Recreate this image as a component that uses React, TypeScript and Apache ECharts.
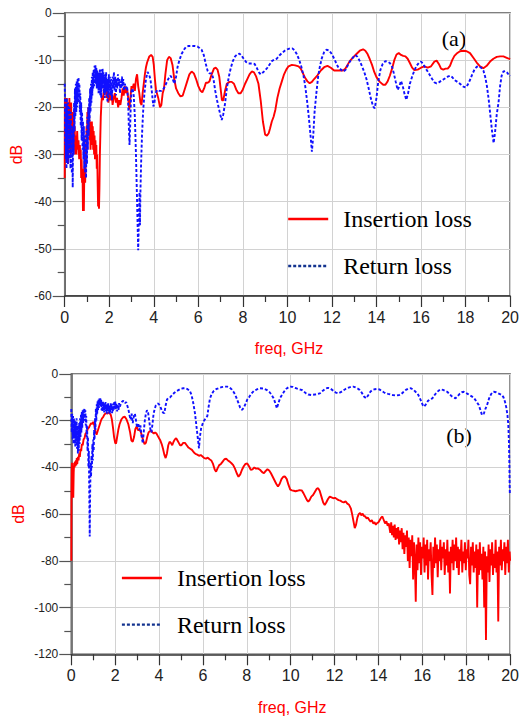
import React, { useEffect, useRef } from 'react';
import * as echarts from 'echarts';

// ---------- (a) data: [freq GHz, dB] ----------
const insertionA: [number, number][] = [
  [0,-35],[0.01,-18],[0.03,-30],[0.05,-19],[0.07,-31],[0.09,-18],[0.11,-28],[0.13,-20],[0.15,-32],[0.17,-19],
  [0.19,-29],[0.21,-18],[0.23,-27],[0.25,-20],[0.27,-30],[0.29,-19],[0.31,-26],[0.33,-22],[0.35,-29],[0.37,-21],
  [0.39,-25],[0.41,-23],[0.43,-29],[0.45,-24],[0.47,-30],[0.5,-26],[0.53,-30],[0.56,-25],[0.59,-29],[0.62,-27],
  [0.65,-31],[0.68,-28],[0.7,-31],[0.72,-29],[0.74,-35],[0.76,-31],[0.78,-36],[0.8,-33],[0.82,-42],[0.84,-38],
  [0.86,-42],[0.88,-34],[0.9,-30],[0.92,-36],[0.94,-28],[0.96,-31],[0.98,-24],[1.0,-27],[1.02,-21],[1.04,-26],
  [1.06,-20],[1.08,-25],[1.1,-22],[1.12,-27],[1.14,-23],[1.16,-29],[1.18,-24],[1.2,-28],[1.22,-23],[1.24,-27],
  [1.26,-24],[1.28,-29],[1.3,-25],[1.32,-30],[1.34,-26],[1.36,-31],[1.38,-27],[1.4,-30],[1.42,-28],[1.44,-33],
  [1.46,-30],[1.48,-36],[1.5,-41],[1.52,-36],[1.54,-41.5],[1.56,-37],[1.58,-30],[1.6,-26],[1.62,-22],[1.65,-19],
  [1.68,-17.5],[1.72,-18.5],[1.76,-16],[1.8,-17],[1.84,-15.5],[1.88,-18],[1.92,-16.5],[1.96,-19],[2.0,-17],[2.05,-18.5],
  [2.1,-16.5],[2.15,-19.5],[2.2,-18],[2.25,-17],[2.3,-19],[2.35,-18],[2.4,-20],[2.45,-18.5],[2.5,-19.5],[2.55,-18],
  [2.6,-16],[2.65,-17.5],[2.7,-15.5],[2.75,-17],[2.8,-16],[2.85,-18],[2.9,-20.5],[2.95,-18],[3.0,-15.5],[3.05,-16],
  [3.1,-15],[3.15,-16.5],[3.2,-14],[3.25,-13],[3.3,-15.5],[3.35,-17],[3.4,-19],[3.45,-19.5],[3.5,-17],[3.55,-15],
  [3.6,-13],[3.65,-11.5],[3.7,-10.5],[3.8,-9.2],[3.88,-8.9],[3.95,-9.3],[4.0,-11],[4.05,-14],[4.1,-16.3],[4.2,-18],
  [4.28,-20],[4.34,-19.5],[4.4,-17],[4.46,-16],[4.52,-13],[4.6,-10],[4.68,-9.3],[4.76,-9.6],[4.84,-11],[4.92,-14],
  [5.0,-16],[5.1,-17],[5.2,-17.7],[5.3,-17.5],[5.4,-16],[5.5,-14.5],[5.6,-13],[5.7,-12.4],[5.8,-12.8],[5.9,-14],
  [6.0,-15.5],[6.1,-16.5],[6.18,-16.8],[6.26,-16],[6.34,-14.8],[6.42,-14.8],[6.5,-14.5],[6.6,-13],[6.7,-11.8],[6.78,-11.6],
  [6.86,-12],[6.94,-13.5],[7.0,-16],[7.06,-18.5],[7.12,-18.5],[7.2,-16.5],[7.28,-15],[7.4,-14.6],[7.5,-14.6],[7.6,-15],
  [7.7,-16.2],[7.8,-17],[7.9,-17],[8.0,-16.2],[8.1,-15],[8.2,-14],[8.3,-13],[8.4,-12.4],[8.5,-12.6],[8.6,-13.5],
  [8.7,-15],[8.8,-18.5],[8.9,-23],[9.0,-25.8],[9.08,-26],[9.16,-25.5],[9.22,-24.5],[9.3,-23],[9.38,-22],[9.46,-20.5],
  [9.55,-18],[9.65,-16],[9.75,-14.5],[9.85,-13],[9.95,-12],[10.05,-11.3],[10.2,-11],[10.35,-11.1],[10.5,-11.3],[10.6,-11.8],
  [10.7,-12.8],[10.8,-13.8],[10.9,-14.5],[11.0,-14.9],[11.1,-14.6],[11.2,-14],[11.35,-13.2],[11.5,-12.2],[11.65,-11.5],[11.8,-11.2],
  [11.95,-11.6],[12.1,-12.2],[12.3,-12.2],[12.5,-12.2],[12.6,-11.8],[12.7,-11],[12.8,-10.2],[12.95,-9.4],[13.1,-8.7],[13.25,-8],
  [13.4,-7.7],[13.5,-8],[13.6,-8.7],[13.7,-9.8],[13.8,-11],[13.9,-12.5],[14.0,-13.6],[14.15,-14.6],[14.3,-15.2],[14.4,-15.2],
  [14.5,-14.5],[14.6,-13.3],[14.7,-11.8],[14.8,-10],[14.9,-8.8],[15.0,-8.5],[15.1,-8.9],[15.2,-9.1],[15.3,-9.2],[15.4,-9.7],
  [15.5,-10.6],[15.6,-11.6],[15.7,-12.1],[15.85,-12],[16.0,-11.6],[16.15,-11.3],[16.3,-11.6],[16.45,-11.3],[16.6,-10.3],[16.7,-10.1],
  [16.8,-10.8],[16.9,-11.8],[17.0,-12],[17.1,-11.8],[17.2,-11.8],[17.3,-11.2],[17.4,-10],[17.5,-9.1],[17.6,-8.6],[17.75,-8.1],
  [17.9,-8],[18.05,-8.1],[18.2,-8.5],[18.35,-9.5],[18.5,-10.5],[18.65,-11.3],[18.8,-11.7],[18.95,-11.2],[19.1,-10.3],[19.25,-9.7],
  [19.4,-9.3],[19.55,-9.2],[19.7,-9.2],[19.85,-9.5],[20.0,-9.8]
];

const returnA: [number, number][] = [
  [0,-15],[0.01,-17],[0.02,-28],[0.035,-19],[0.05,-31],[0.065,-20],[0.08,-33],[0.095,-18],[0.11,-30],[0.125,-21],
  [0.14,-32],[0.155,-19],[0.17,-29],[0.185,-22],[0.2,-31],[0.215,-20],[0.23,-28],[0.245,-23],[0.26,-33],[0.275,-21],
  [0.29,-30],[0.305,-24],[0.32,-34],[0.34,-25],[0.36,-37],[0.38,-24],[0.4,-30],[0.42,-19],[0.44,-25],[0.46,-16],
  [0.48,-22],[0.5,-15],[0.52,-21],[0.54,-14.5],[0.56,-20],[0.58,-14],[0.6,-19],[0.62,-13.6],[0.64,-18],[0.66,-15],
  [0.68,-21],[0.7,-17],[0.72,-24],[0.74,-19],[0.76,-27],[0.78,-21],[0.8,-29],[0.82,-23],[0.84,-31],[0.86,-24],
  [0.88,-33],[0.9,-26],[0.92,-34],[0.94,-27],[0.96,-35],[0.98,-25],[1.0,-32],[1.02,-22],[1.04,-29],[1.06,-20],
  [1.08,-26],[1.1,-18],[1.12,-23],[1.14,-16],[1.16,-21],[1.18,-15],[1.2,-19],[1.22,-13.5],[1.24,-17.5],[1.26,-12.5],
  [1.28,-16],[1.3,-12],[1.32,-15.5],[1.34,-11.2],[1.36,-14.5],[1.38,-11],[1.4,-15],[1.42,-11.5],[1.44,-16],[1.46,-12],
  [1.48,-15.5],[1.5,-12.5],[1.52,-17],[1.54,-13],[1.56,-16.5],[1.58,-12],[1.6,-17.5],[1.62,-13],[1.64,-18],[1.66,-12],
  [1.68,-16],[1.7,-11.8],[1.72,-15],[1.74,-12.5],[1.76,-17],[1.78,-13],[1.8,-18],[1.82,-13.5],[1.84,-17],[1.86,-12.5],
  [1.88,-16.5],[1.9,-14],[1.92,-19],[1.94,-14.5],[1.96,-18],[1.98,-13],[2.0,-16.5],[2.03,-13.5],[2.06,-17.5],[2.09,-14],
  [2.12,-18.5],[2.15,-13.5],[2.18,-16],[2.21,-12.5],[2.24,-16.5],[2.27,-13.5],[2.3,-17.5],[2.33,-14],[2.36,-16],[2.39,-13],
  [2.42,-15.5],[2.45,-14],[2.48,-17],[2.51,-14.5],[2.54,-16],[2.57,-13.5],[2.6,-15.5],[2.63,-14],[2.66,-16.5],[2.7,-15],
  [2.75,-16],[2.8,-15.5],[2.85,-19],[2.88,-24],[2.91,-28],[2.94,-24],[2.97,-19],[3.0,-16.5],[3.05,-16],[3.1,-17.5],
  [3.15,-22],[3.2,-30],[3.25,-40],[3.3,-50.3],[3.33,-44],[3.36,-38],[3.38,-45],[3.4,-38],[3.43,-32],[3.47,-26],
  [3.52,-21],[3.58,-17],[3.65,-14],[3.72,-12.5],[3.78,-13],[3.85,-14],[3.92,-17],[3.98,-19.8],[4.03,-19],[4.08,-17],
  [4.15,-16.3],[4.25,-16.5],[4.35,-16.5],[4.45,-16],[4.55,-15],[4.65,-14],[4.75,-13.3],[4.85,-14],[4.92,-15],[5.0,-13.5],
  [5.07,-11.4],[5.15,-10],[5.25,-8.7],[5.35,-7.8],[5.45,-7.2],[5.55,-7],[5.7,-7],[5.85,-7],[5.96,-7.1],[6.05,-7.4],
  [6.15,-7.8],[6.25,-9],[6.33,-10.7],[6.42,-12.3],[6.5,-12.8],[6.6,-12.8],[6.68,-14],[6.76,-16.5],[6.84,-18.5],[6.92,-20.2],
  [7.0,-21.8],[7.05,-22.7],[7.12,-21.5],[7.2,-19.2],[7.28,-16],[7.37,-13.5],[7.46,-11.6],[7.55,-10.2],[7.65,-9.2],[7.75,-8.8],
  [7.85,-8.6],[7.95,-9.1],[8.05,-9.8],[8.15,-10.4],[8.26,-10.7],[8.4,-10.7],[8.53,-10.8],[8.62,-11.6],[8.72,-12.6],[8.8,-13],
  [8.9,-12.6],[9.0,-12.2],[9.1,-11.6],[9.2,-10.9],[9.3,-10.2],[9.4,-9.9],[9.52,-9.7],[9.64,-9],[9.75,-8.5],[9.88,-8],
  [10.0,-7.7],[10.12,-7.5],[10.22,-7.5],[10.32,-7.9],[10.42,-8.7],[10.52,-9.8],[10.62,-11.3],[10.72,-13.2],[10.8,-15.5],[10.88,-18.5],
  [10.96,-22],[11.03,-25.5],[11.1,-29.4],[11.16,-26],[11.22,-21],[11.3,-17],[11.38,-13.5],[11.46,-11.3],[11.55,-9.5],[11.65,-8.3],
  [11.75,-7.8],[11.85,-7.9],[11.95,-8.4],[12.05,-9.2],[12.15,-10.2],[12.27,-11.4],[12.4,-12],[12.52,-12.4],[12.62,-12],[12.72,-11],
  [12.82,-10.2],[12.95,-9.4],[13.05,-8.9],[13.15,-9.3],[13.25,-10.2],[13.35,-11.3],[13.45,-12.5],[13.55,-14],[13.65,-16],[13.75,-18.2],
  [13.85,-19.8],[13.92,-20.2],[14.0,-18],[14.08,-14.5],[14.18,-12],[14.28,-10.8],[14.4,-10.2],[14.5,-10.3],[14.6,-10.6],[14.7,-11.4],
  [14.78,-12.8],[14.86,-14.5],[14.95,-16.3],[15.03,-15.5],[15.1,-14.4],[15.18,-15.5],[15.26,-17.2],[15.34,-18.4],[15.42,-17],[15.5,-15],
  [15.6,-13.5],[15.7,-12.2],[15.8,-11.2],[15.9,-10.6],[16.0,-10.3],[16.1,-10.8],[16.2,-11.7],[16.3,-12.4],[16.4,-13.2],[16.5,-14],
  [16.6,-14.7],[16.7,-14.9],[16.8,-14.7],[16.9,-14.4],[17.0,-14.1],[17.1,-13.8],[17.2,-13.5],[17.3,-13.3],[17.4,-13.6],[17.5,-14.2],
  [17.6,-14.5],[17.7,-14.8],[17.8,-15.2],[17.9,-15.6],[18.0,-15.8],[18.1,-15.2],[18.2,-14.2],[18.3,-13],[18.4,-12],[18.5,-11.4],
  [18.6,-11.3],[18.7,-11.6],[18.8,-12.2],[18.88,-13.5],[18.96,-15.5],[19.04,-18.4],[19.12,-22],[19.2,-25.5],[19.26,-27.6],[19.32,-25.5],
  [19.4,-21.5],[19.48,-19],[19.55,-15.5],[19.62,-13.3],[19.7,-12.4],[19.78,-12.3],[19.86,-12.6],[19.94,-13.1],[20.0,-13.4]
];

// ---------- (b) data: [freq GHz, dB] ----------
const insertionB: [number, number][] = [
  [0,-80],[0.005,-62],[0.01,-50],[0.02,-41],[0.03,-38],[0.05,-45],[0.07,-40],[0.09,-53],[0.11,-42],[0.13,-38],
  [0.15,-40],[0.17,-37.5],[0.19,-39.5],[0.21,-37],[0.23,-39],[0.25,-36],[0.27,-38.5],[0.3,-35.5],[0.33,-37],[0.36,-34],
  [0.39,-35.5],[0.42,-32],[0.45,-33],[0.48,-30],[0.52,-30.5],[0.56,-28],[0.6,-27.5],[0.65,-25.5],[0.7,-25],[0.75,-23.5],
  [0.8,-23],[0.85,-22],[0.9,-21],[0.95,-21.5],[1.0,-20.5],[1.05,-22],[1.1,-24.5],[1.15,-26],[1.2,-24.5],[1.25,-23],
  [1.3,-21.5],[1.35,-20],[1.4,-19],[1.45,-18.5],[1.5,-17.5],[1.55,-17],[1.6,-16.8],[1.65,-17],[1.7,-16.5],[1.75,-16.8],
  [1.8,-17.5],[1.85,-19.5],[1.9,-23],[1.95,-27],[2.0,-29.5],[2.04,-29.8],[2.08,-27.5],[2.14,-24],[2.2,-21.5],[2.28,-19.5],
  [2.36,-18.5],[2.44,-18.3],[2.52,-19.5],[2.6,-21.5],[2.68,-25],[2.74,-28.5],[2.8,-29],[2.86,-27],[2.92,-23.5],[2.98,-22.5],
  [3.04,-24],[3.1,-24],[3.16,-24.5],[3.22,-26.5],[3.28,-28.5],[3.34,-30],[3.4,-29.5],[3.46,-27],[3.52,-25],[3.58,-24.5],
  [3.64,-24.2],[3.7,-25],[3.76,-25.5],[3.82,-25],[3.88,-25.5],[3.94,-26.5],[4.0,-27.5],[4.06,-28.5],[4.12,-30],[4.18,-32],
  [4.24,-34.5],[4.3,-36],[4.36,-34],[4.42,-30.5],[4.48,-29],[4.54,-29.5],[4.6,-30.5],[4.66,-29],[4.72,-28],[4.78,-27.5],
  [4.84,-28.5],[4.9,-29.5],[4.96,-30.5],[5.02,-30.5],[5.1,-29.5],[5.18,-29.5],[5.26,-30.5],[5.34,-31.5],[5.42,-32],[5.5,-32.5],
  [5.58,-33.5],[5.66,-34.2],[5.74,-34.5],[5.82,-35],[5.9,-34.7],[5.98,-35.3],[6.06,-36],[6.14,-36.2],[6.22,-35.8],[6.3,-36.5],
  [6.38,-37],[6.46,-38.5],[6.54,-41],[6.6,-41.8],[6.66,-40.5],[6.74,-39],[6.82,-38.5],[6.9,-37.5],[6.98,-36.5],[7.06,-36.3],
  [7.14,-37],[7.22,-37.5],[7.3,-38.2],[7.38,-39],[7.46,-40.5],[7.54,-42.5],[7.62,-44],[7.7,-43],[7.78,-41],[7.86,-39.5],
  [7.94,-38.5],[8.02,-38.3],[8.1,-39.5],[8.18,-41],[8.26,-40.8],[8.34,-40],[8.42,-40.5],[8.5,-40.4],[8.6,-41],[8.7,-42],
  [8.78,-42.5],[8.86,-41.5],[8.94,-40.8],[9.02,-41.3],[9.1,-42.5],[9.18,-44],[9.26,-45.5],[9.34,-47],[9.42,-48.2],[9.5,-47],
  [9.58,-45],[9.66,-44],[9.74,-43.9],[9.82,-45],[9.9,-47.5],[9.98,-49.5],[10.06,-49.8],[10.14,-50],[10.22,-50.2],[10.3,-50],
  [10.4,-49.7],[10.5,-49.8],[10.58,-51],[10.66,-52.5],[10.74,-54],[10.8,-54.7],[10.86,-54],[10.94,-52.5],[11.02,-51.8],[11.1,-50.5],
  [11.18,-49.2],[11.25,-48.9],[11.32,-50],[11.4,-52.5],[11.48,-55],[11.55,-56.1],[11.62,-55],[11.7,-53.5],[11.78,-52.5],[11.86,-52.8],
  [11.94,-53.2],[12.02,-53],[12.1,-53.5],[12.18,-54],[12.26,-54.2],[12.34,-54.7],[12.42,-55],[12.5,-54.5],[12.58,-55.5],[12.66,-56],
  [12.74,-57.5],[12.8,-60],[12.86,-63],[12.92,-66],[12.98,-64.5],[13.04,-61.5],[13.1,-60],[13.16,-59.5],[13.22,-60.5],[13.28,-59.8],
  [13.34,-60.8],[13.4,-61],[13.46,-61.8],[13.52,-61.5],[13.58,-62.5],[13.64,-63.2],[13.7,-62.5],[13.76,-64],[13.82,-63.5],[13.88,-64.5],
  [13.94,-63.8],[14.0,-63.5],[14.06,-62.5],[14.12,-61.5],[14.18,-61],[14.24,-62.5],[14.3,-64],[14.36,-63],[14.42,-65],[14.47,-64],
  [14.5,-64],[14.54,-68],[14.58,-63.5],[14.62,-69],[14.66,-65],[14.7,-70],[14.74,-64.5],[14.78,-71],[14.82,-66],[14.86,-70.5],
  [14.9,-65.5],[14.94,-73],[14.98,-67],[15.02,-72],[15.06,-66],[15.1,-75],[15.14,-68],[15.18,-77],[15.22,-69],[15.26,-74],
  [15.3,-67],[15.34,-80],[15.38,-70],[15.42,-83],[15.46,-71],[15.5,-78],[15.54,-69],[15.58,-88],[15.62,-72],[15.66,-80],
  [15.7,-97.5],[15.74,-73],[15.78,-84],[15.82,-70],[15.86,-81],[15.9,-72],[15.94,-86],[15.98,-74],[16.02,-79],[16.06,-70],
  [16.1,-85],[16.14,-73],[16.18,-82],[16.22,-71],[16.26,-88],[16.3,-75],[16.34,-80],[16.38,-72],[16.42,-86],[16.46,-94.6],
  [16.5,-74],[16.54,-83],[16.58,-70],[16.62,-81],[16.66,-73],[16.7,-87],[16.74,-75],[16.78,-80],[16.82,-71],[16.86,-84],
  [16.9,-74],[16.94,-79],[16.98,-72],[17.02,-86],[17.06,-75],[17.1,-82],[17.14,-71],[17.18,-85],[17.22,-76],[17.26,-94],
  [17.3,-74],[17.34,-81],[17.38,-71],[17.42,-84],[17.46,-73],[17.5,-80],[17.54,-70],[17.58,-83],[17.62,-74],[17.66,-86],
  [17.7,-75],[17.74,-80],[17.78,-71],[17.82,-85],[17.86,-76],[17.9,-81],[17.94,-72],[17.98,-84],[18.02,-75],[18.06,-79],
  [18.1,-71],[18.14,-86],[18.18,-90],[18.22,-74],[18.26,-82],[18.3,-72],[18.34,-85],[18.38,-76],[18.42,-83],[18.46,-73],
  [18.5,-100],[18.54,-75],[18.58,-86],[18.62,-72],[18.66,-84],[18.7,-77],[18.74,-88],[18.78,-74],[18.82,-100],[18.86,-76],
  [18.9,-113.9],[18.94,-78],[18.98,-85],[19.02,-73],[19.06,-89],[19.1,-75],[19.14,-82],[19.18,-72],[19.22,-86],[19.26,-77],
  [19.3,-83],[19.34,-71],[19.38,-85],[19.42,-76],[19.46,-106],[19.5,-74],[19.54,-82],[19.58,-71],[19.62,-84],[19.66,-75],
  [19.7,-80],[19.74,-72],[19.78,-86],[19.82,-74],[19.86,-81],[19.9,-71],[19.94,-85],[19.98,-76],[20.0,-80]
];

const returnB: [number, number][] = [
  [0,-15],[0.02,-25],[0.04,-17],[0.06,-28],[0.08,-18],[0.1,-30],[0.12,-19],[0.14,-27],[0.16,-20],[0.18,-31],
  [0.2,-21],[0.22,-29],[0.24,-19],[0.26,-32],[0.28,-22],[0.3,-34],[0.32,-24],[0.34,-33],[0.36,-21],[0.38,-30],
  [0.4,-19],[0.42,-27],[0.44,-17],[0.46,-25],[0.48,-16],[0.5,-23],[0.52,-15.5],[0.54,-21],[0.56,-15],[0.58,-20],
  [0.6,-14.7],[0.62,-19],[0.64,-15.5],[0.66,-22],[0.68,-18],[0.7,-27],[0.72,-22],[0.74,-33],[0.76,-27],[0.78,-40],
  [0.8,-33],[0.82,-52],[0.84,-69.6],[0.86,-50],[0.88,-38],[0.9,-44],[0.92,-35],[0.94,-40],[0.96,-30],[0.98,-37],
  [1.0,-28],[1.02,-33],[1.04,-24],[1.06,-28],[1.08,-19],[1.1,-24],[1.12,-15],[1.14,-20],[1.16,-13],[1.18,-17],
  [1.2,-11.5],[1.22,-15.5],[1.24,-11],[1.26,-14.5],[1.28,-10.5],[1.3,-13.5],[1.32,-10.4],[1.34,-14],[1.36,-11],[1.38,-15.5],
  [1.4,-12],[1.42,-16],[1.44,-11.5],[1.46,-15],[1.48,-12.5],[1.5,-16.5],[1.52,-13],[1.54,-15],[1.56,-12],[1.58,-16],
  [1.6,-13.5],[1.62,-17],[1.64,-13],[1.66,-15.5],[1.68,-12.5],[1.7,-16],[1.72,-14],[1.74,-17],[1.76,-13.5],[1.78,-16.5],
  [1.8,-12.5],[1.82,-15],[1.84,-13],[1.86,-16.8],[1.88,-14],[1.9,-16],[1.92,-12.5],[1.94,-15.5],[1.96,-12],[1.98,-14.5],
  [2.0,-11.5],[2.03,-15],[2.06,-12.5],[2.09,-16],[2.12,-13],[2.15,-15.5],[2.18,-12.5],[2.21,-14],[2.25,-13],[2.3,-12],
  [2.35,-11.5],[2.4,-11.7],[2.45,-12.5],[2.5,-12],[2.55,-13.5],[2.6,-15],[2.65,-17.5],[2.7,-19.5],[2.75,-17],[2.8,-21],
  [2.85,-18],[2.9,-17],[2.95,-20],[3.0,-23],[3.05,-21],[3.1,-24],[3.15,-22],[3.2,-26.5],[3.26,-29.7],[3.3,-25],
  [3.35,-20],[3.4,-17],[3.45,-15.5],[3.5,-16.5],[3.55,-20],[3.6,-23.5],[3.65,-25],[3.7,-21.5],[3.75,-17],[3.8,-15],
  [3.85,-13.5],[3.9,-13],[3.95,-12.6],[4.0,-13],[4.06,-14],[4.12,-15.5],[4.18,-16.5],[4.24,-16.8],[4.3,-13.5],[4.36,-11],
  [4.42,-10.3],[4.5,-10],[4.6,-9],[4.7,-8],[4.8,-7.3],[4.9,-6.8],[5.0,-6.3],[5.1,-6.1],[5.2,-6.1],[5.3,-6.5],
  [5.4,-7.2],[5.48,-9],[5.56,-12.5],[5.64,-17],[5.7,-22],[5.76,-27],[5.82,-31.8],[5.86,-27],[5.92,-23],[5.98,-21.5],
  [6.05,-20],[6.12,-19],[6.2,-18],[6.26,-14],[6.32,-10.5],[6.4,-8.5],[6.5,-7.2],[6.6,-6.5],[6.73,-6],[6.85,-5.6],
  [6.98,-5.4],[7.1,-5.4],[7.22,-5.8],[7.32,-6.7],[7.42,-8],[7.52,-10],[7.62,-12.5],[7.7,-14.5],[7.78,-15.4],[7.86,-14.5],
  [7.94,-12.8],[8.02,-11],[8.1,-10],[8.2,-8.5],[8.32,-7.3],[8.46,-6.6],[8.6,-6.1],[8.75,-6.2],[8.9,-6.8],[9.02,-7.6],
  [9.12,-8.8],[9.22,-10.4],[9.3,-12.5],[9.37,-14.7],[9.44,-12.5],[9.52,-10.2],[9.6,-9],[9.7,-7.5],[9.8,-6.3],[9.9,-5.7],
  [10.0,-5.4],[10.1,-5.5],[10.2,-5.9],[10.3,-6.3],[10.4,-6.6],[10.5,-6.8],[10.6,-7.5],[10.7,-8.3],[10.8,-8.8],[10.95,-9],
  [11.1,-8.8],[11.22,-8.5],[11.33,-8.3],[11.45,-7.3],[11.58,-6.3],[11.7,-5.9],[11.82,-6.3],[11.95,-7.2],[12.06,-8],[12.16,-8.3],
  [12.28,-7.8],[12.4,-7],[12.52,-6.3],[12.64,-5.8],[12.75,-5.5],[12.85,-5.4],[12.95,-5.7],[13.05,-6.2],[13.14,-6.8],[13.24,-8],
  [13.34,-9.6],[13.44,-10.4],[13.54,-9],[13.64,-7.5],[13.74,-6.8],[13.84,-6.5],[13.94,-6.4],[14.04,-6.6],[14.14,-7.2],[14.24,-7.8],
  [14.34,-8.3],[14.44,-8.5],[14.55,-8.7],[14.65,-9],[14.8,-9.2],[14.95,-9],[15.05,-8.5],[15.15,-7.6],[15.25,-6.8],[15.35,-6.3],
  [15.48,-6.1],[15.6,-6.8],[15.7,-7.7],[15.78,-8.3],[15.86,-9.8],[15.94,-11.5],[16.02,-13.3],[16.08,-14],[16.16,-13],[16.26,-11.5],
  [16.36,-10.8],[16.46,-10.4],[16.56,-9],[16.66,-7.8],[16.76,-7],[16.84,-6.6],[16.94,-6.8],[17.04,-7.2],[17.13,-7.6],[17.22,-8.4],
  [17.32,-9.4],[17.42,-10],[17.51,-10.4],[17.6,-9.6],[17.7,-8.5],[17.8,-7.8],[17.89,-7.6],[17.98,-8],[18.08,-8.6],[18.18,-9.2],
  [18.27,-9.7],[18.37,-10.5],[18.47,-11.8],[18.57,-13.3],[18.65,-15.5],[18.72,-17.6],[18.8,-17],[18.88,-14.8],[18.95,-13.3],[19.04,-10.5],
  [19.14,-8.5],[19.25,-7.6],[19.36,-7.8],[19.46,-8.3],[19.56,-8.7],[19.63,-9],[19.7,-10],[19.77,-12],[19.83,-14.5],[19.88,-17.6],
  [19.92,-22],[19.95,-30],[19.97,-40],[19.98,-48],[19.99,-51.8]
];

const seriesNames = ['Insertion loss', 'Return loss'];
const panelLabels = ['(a)', '(b)'];
const xAxisTitle = 'freq, GHz';
const yAxisTitle = 'dB';

const SANS = '"Liberation Sans", Arial, Helvetica, sans-serif';
const SERIF = '"Liberation Serif", "Times New Roman", serif';
const RED = '#ff0000';
const BLUE = '#1010ff';
const AXIS = '#555555';
const GRIDLINE = '#d2d2d2';

function xAxisFor(gridIndex: number) {
  return {
    type: 'value', gridIndex, min: 0, max: 20, interval: 2,
    axisLine: { show: true, onZero: false, lineStyle: { color: '#333', width: 1.5 } },
    axisTick: { show: true, length: 11, lineStyle: { color: '#333', width: 1.2 } },
    minorTick: { show: true, splitNumber: 2, length: 6, lineStyle: { color: '#333', width: 1.2 } },
    splitLine: { show: true, lineStyle: { color: GRIDLINE, width: 1 } },
    axisLabel: { fontSize: 16, color: '#222', fontFamily: SANS, margin: 13 },
  };
}

function yAxisFor(gridIndex: number, min: number, interval: number) {
  return {
    type: 'value', gridIndex, min, max: 0, interval,
    axisLine: { show: true, onZero: false, lineStyle: { color: AXIS, width: 1.5 } },
    axisTick: { show: true, length: 12, lineStyle: { color: AXIS, width: 1.2 } },
    minorTick: { show: true, splitNumber: 2, length: 7, lineStyle: { color: AXIS, width: 1.2 } },
    splitLine: { show: true, lineStyle: { color: GRIDLINE, width: 1 } },
    axisLabel: { fontSize: 12, color: '#222', fontFamily: SANS, margin: 13 },
  };
}

function legendFor(left: number, top: number, gap: number) {
  return {
    orient: 'vertical', left, top, padding: 0, itemWidth: 40, itemHeight: 24, itemGap: gap,
    selectedMode: false,
    itemStyle: { opacity: 0, borderWidth: 0 },
    lineStyle: { width: 2.4 },
    data: [
      { name: seriesNames[0] },
      { name: seriesNames[1], lineStyle: { color: '#13338f', width: 2.4 } },
    ],
    textStyle: { fontFamily: SERIF, fontSize: 24, color: '#000', lineHeight: 24, padding: [0, 0, 0, 10] },
  };
}

function lineSeries(name: string, data: [number, number][], idx: number, color: string, dotted: boolean, z: number) {
  return {
    type: 'line', name, data, xAxisIndex: idx, yAxisIndex: idx,
    symbol: 'none', showSymbol: false, z,
    lineStyle: { color, width: 1.9, type: dotted ? [3, 2] : 'solid' },
    itemStyle: { color },
    emphasis: { disabled: true },
  };
}

const option = {
  animation: false,
  backgroundColor: '#ffffff',
  grid: [
    { left: 64.7, top: 13, width: 448.6, height: 283, show: true, borderColor: AXIS, borderWidth: 1.5 },
    { left: 71.3, top: 374, width: 442, height: 280.3, show: true, borderColor: AXIS, borderWidth: 1.5 },
  ],
  xAxis: [xAxisFor(0), xAxisFor(1)],
  yAxis: [yAxisFor(0, -60, 10), yAxisFor(1, -120, 20)],
  legend: [legendFor(287, 207, 23), legendFor(120.7, 566, 22.6)],
  series: [
    lineSeries(seriesNames[0], insertionA, 0, RED, false, 2),
    lineSeries(seriesNames[1], returnA, 0, BLUE, true, 3),
    lineSeries(seriesNames[0], insertionB, 1, RED, false, 2),
    lineSeries(seriesNames[1], returnB, 1, BLUE, true, 3),
  ],
  graphic: [
    { type: 'text', x: 16, y: 154.5, rotation: Math.PI / 2, style: { text: yAxisTitle, fill: RED, font: `16px ${SANS}`, align: 'center', verticalAlign: 'middle' } },
    { type: 'text', x: 18.5, y: 514, rotation: Math.PI / 2, style: { text: yAxisTitle, fill: RED, font: `16px ${SANS}`, align: 'center', verticalAlign: 'middle' } },
    { type: 'text', x: 289, y: 348, style: { text: xAxisTitle, fill: RED, font: `16px ${SANS}`, align: 'center', verticalAlign: 'middle' } },
    { type: 'text', x: 292.3, y: 707, style: { text: xAxisTitle, fill: RED, font: `16px ${SANS}`, align: 'center', verticalAlign: 'middle' } },
    { type: 'text', x: 454, y: 38, style: { text: panelLabels[0], fill: '#000', font: `22px ${SERIF}`, align: 'center', verticalAlign: 'middle' } },
    { type: 'text', x: 459, y: 435, style: { text: panelLabels[1], fill: '#000', font: `22px ${SERIF}`, align: 'center', verticalAlign: 'middle' } },
  ],
};

export default function App() {
  const ref = useRef<HTMLDivElement>(null);
  useEffect(() => {
    if (!ref.current) return;
    const chart = echarts.init(ref.current, null, { renderer: 'svg' });
    chart.setOption(option as any);
    return () => chart.dispose();
  }, []);
  return <div ref={ref} style={{ position: 'absolute', left: 0, top: 0, width: 522, height: 719 }} />;
}
